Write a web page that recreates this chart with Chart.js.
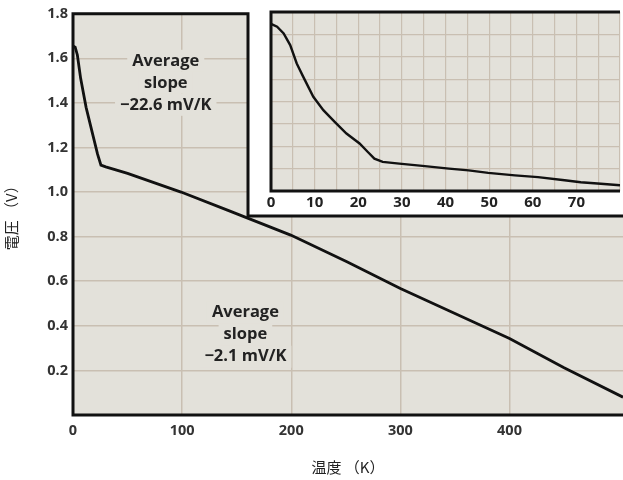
<!DOCTYPE html>
<html lang="ja">
<head>
<meta charset="UTF-8" />
<title>電圧 vs 温度</title>
<script src="https://cdn.jsdelivr.net/npm/chart.js"></script>
<style>
  body { margin: 0; background: #fff; }
  #wrap { position: relative; width: 623px; height: 480px; }
  #mainChart { position: absolute; left: 0; top: 0; }
  #insetChart { position: absolute; left: 251px; top: 0; }
</style>
</head>
<body>
<div id="wrap">
  <canvas id="mainChart" width="623" height="480"></canvas>
  <canvas id="insetChart" width="372" height="214"></canvas>
</div>
<script>
  // main curve (K, V)
  const mainTemp = [0, 2, 4, 7, 12, 18, 22.5, 25.6, 30, 50, 99, 141.5, 199.5, 251, 300, 350, 400, 450, 504];
  const mainVolt = [1.655, 1.65, 1.615, 1.51, 1.38, 1.26, 1.17, 1.121, 1.113, 1.084, 1.0, 0.919, 0.807, 0.687, 0.567, 0.455, 0.343, 0.212, 0.08];
  const mainXTicks = [0, 100, 200, 300, 400];
  const mainYTicks = [0.2, 0.4, 0.6, 0.8, 1.0, 1.2, 1.4, 1.6, 1.8];

  // inset: zoom on 0-80 K
  const insetTemp = [0, 1.4, 2.9, 4.4, 5.9, 7.4, 9.7, 12, 14.6, 17.3, 20.3, 22.2, 23.7, 25.6, 29.4, 34.7, 40.8, 45.3, 49.8, 55.9, 61.2, 67.3, 71, 75.6, 80];
  const insetVolt = [1.672, 1.661, 1.634, 1.587, 1.513, 1.459, 1.379, 1.325, 1.278, 1.231, 1.191, 1.157, 1.130, 1.117, 1.110, 1.101, 1.090, 1.083, 1.073, 1.063, 1.056, 1.043, 1.035, 1.029, 1.023];
  const insetXLabels = [0, 10, 20, 30, 40, 50, 60, 70];

  const notes = [
    { x: 85, y: 1.49, lines: ['Average', 'slope', '\u221222.6 mV/K'] },
    { x: 158, y: 0.36, lines: ['Average', 'slope', '\u22122.1 mV/K'] }
  ];

  const plotBg = '#e3e1da';
  const gridCol = '#c9bfb2';
  const tickFont = { family: 'Open Sans', size: 14.5, weight: 'bold' };

  const toPoints = (xs, ys) => xs.map((x, i) => ({ x: x, y: ys[i] }));

  const bgPlugin = {
    id: 'bg',
    beforeDraw(chart) {
      const a = chart.chartArea, c = chart.ctx;
      c.save();
      c.fillStyle = plotBg;
      c.fillRect(a.left, a.top, a.right - a.left, a.bottom - a.top);
      c.restore();
    }
  };

  // labels, white inset panel and the black frame
  const mainDeco = {
    id: 'mainDeco',
    afterDatasetsDraw(chart) {
      const a = chart.chartArea, c = chart.ctx;
      const xs = chart.scales.x, ys = chart.scales.y;
      c.save();
      c.font = 'bold 16.5px "Open Sans"';
      c.textAlign = 'center';
      c.textBaseline = 'middle';
      notes.forEach(n => {
        const cx = xs.getPixelForValue(n.x), cy = ys.getPixelForValue(n.y);
        n.lines.forEach((t, i) => {
          const yy = cy + (i - 1) * 22;
          const w = c.measureText(t).width;
          c.fillStyle = plotBg;
          c.fillRect(cx - w / 2 - 5, yy - 11, w + 10, 22);
          c.fillStyle = '#222';
          c.fillText(t, cx, yy);
        });
      });

      const px = 248, pb = 216;
      c.fillStyle = '#fff';
      c.fillRect(px, 0, a.right - px, pb);
      c.strokeStyle = '#111';
      c.lineWidth = 3;
      c.beginPath();
      c.moveTo(a.left, a.top);
      c.lineTo(px, a.top);
      c.lineTo(px, pb);
      c.lineTo(a.right, pb);
      c.moveTo(a.left, a.top - 1.5);
      c.lineTo(a.left, a.bottom);
      c.lineTo(a.right, a.bottom);
      c.stroke();
      c.restore();
    }
  };

  new Chart(document.getElementById('mainChart'), {
    type: 'line',
    data: {
      datasets: [{
        data: toPoints(mainTemp, mainVolt),
        borderColor: '#111',
        borderWidth: 2.8,
        pointRadius: 0,
        tension: 0
      }]
    },
    options: {
      responsive: false,
      animation: false,
      layout: { padding: { top: 12, right: 0, left: 0, bottom: 0 } },
      plugins: { legend: { display: false }, tooltip: { enabled: false } },
      scales: {
        x: {
          type: 'linear',
          min: 0,
          max: 504,
          afterBuildTicks: s => { s.ticks = mainXTicks.map(v => ({ value: v })); },
          afterFit: s => { s.height = 65; },
          grid: { color: gridCol, lineWidth: 1.5, drawTicks: false },
          border: { display: false },
          ticks: { color: '#333', font: tickFont, padding: 7, maxRotation: 0 },
          title: { display: true, text: '温度 （K）', color: '#222', font: { family: 'Noto Sans CJK JP', size: 15 }, padding: { top: 10 } }
        },
        y: {
          min: 0,
          max: 1.8,
          afterBuildTicks: s => { s.ticks = mainYTicks.map(v => ({ value: v })); },
          afterFit: s => { s.width = 73; },
          grid: { color: gridCol, lineWidth: 1.5, drawTicks: false },
          border: { display: false },
          ticks: { color: '#333', font: tickFont, padding: 5, callback: v => v.toFixed(1) },
          title: { display: true, text: '電圧 （V）', color: '#222', font: { family: 'Noto Sans CJK JP', size: 15 }, padding: { top: 2, bottom: 0 } }
        }
      }
    },
    plugins: [bgPlugin, mainDeco]
  });

  const insetFrame = {
    id: 'insetFrame',
    afterDatasetsDraw(chart) {
      const a = chart.chartArea, c = chart.ctx;
      c.save();
      c.strokeStyle = '#111';
      c.lineWidth = 3;
      c.beginPath();
      c.moveTo(a.right, a.top);
      c.lineTo(a.left, a.top);
      c.lineTo(a.left, a.bottom);
      c.lineTo(a.right, a.bottom);
      c.stroke();
      c.restore();
    }
  };

  new Chart(document.getElementById('insetChart'), {
    type: 'line',
    data: {
      datasets: [{
        data: toPoints(insetTemp, insetVolt),
        borderColor: '#111',
        borderWidth: 2.4,
        pointRadius: 0,
        tension: 0
      }]
    },
    options: {
      responsive: false,
      animation: false,
      layout: { padding: { top: 12, left: 20, right: 0, bottom: 0 } },
      plugins: { legend: { display: false }, tooltip: { enabled: false } },
      scales: {
        x: {
          type: 'linear',
          min: 0,
          max: 80,
          ticks: {
            stepSize: 5,
            autoSkip: false,
            maxRotation: 0,
            color: '#222',
            font: { family: 'Open Sans', size: 15, weight: 'bold' },
            padding: 3,
            callback: v => insetXLabels.includes(v) ? String(v) : ''
          },
          afterFit: s => { s.height = 23; },
          grid: { color: gridCol, lineWidth: 1.2, drawTicks: false },
          border: { display: false }
        },
        y: {
          display: true,
          min: 1.0,
          max: 1.72,
          ticks: { display: false, stepSize: 0.09 },
          afterFit: s => { s.width = 0; },
          grid: { color: gridCol, lineWidth: 1.2, drawTicks: false },
          border: { display: false }
        }
      }
    },
    plugins: [bgPlugin, insetFrame]
  });
</script>
</body>
</html>
